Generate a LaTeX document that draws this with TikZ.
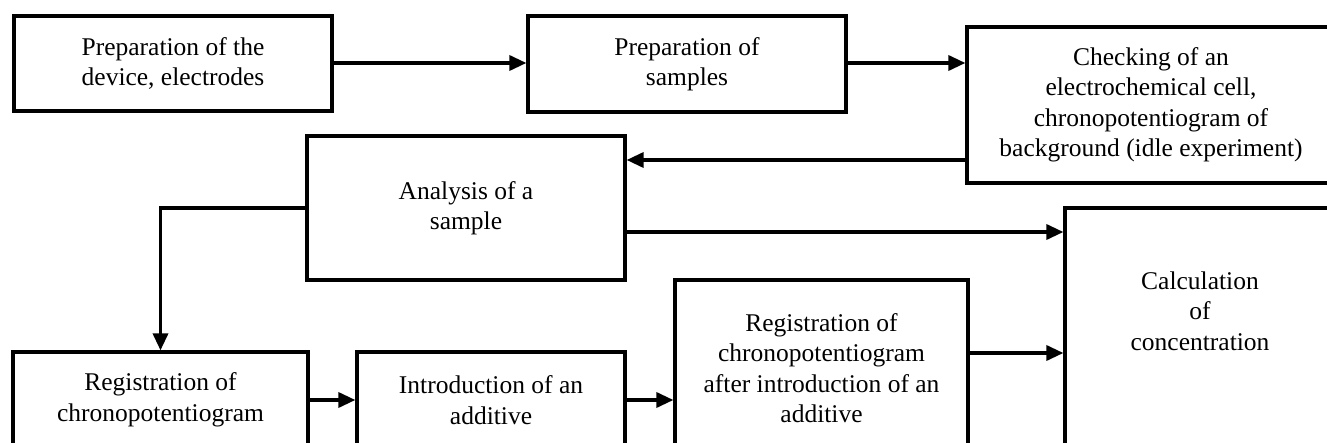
\documentclass[tikz,border=0pt]{standalone}
\usepackage{fontspec}
\setmainfont{Liberation Serif}
\usetikzlibrary{arrows.meta}
\begin{document}
\begin{tikzpicture}[x=1pt,y=-1pt,
  txt/.style={font=\fontsize{25.5}{30.5}\selectfont},
  box/.style={draw, line width=3.2pt, align=center, inner sep=0pt, txt},
  conn/.style={line width=3.4pt, -{Triangle[length=17pt,width=15pt]}}]
\useasboundingbox (0,0) rectangle (1327,443);
\clip (0,0) rectangle (1327,443);
\node[box, minimum width=318pt, minimum height=95pt] (b1) at (173,63.5) {Preparation of the\\device, electrodes};
\node[box, minimum width=318pt, minimum height=96pt] (b2) at (687,64) {Preparation of\\samples};
\node[box, minimum width=368pt, minimum height=156pt] (b3) at (1151,105) {Checking of an\\electrochemical cell,\\chronopotentiogram of\\background (idle experiment)};
\node[box, minimum width=318pt, minimum height=144pt] (ana) at (466,208) {Analysis of a\\sample};
\node[box, minimum width=295pt, minimum height=96pt] (reg) at (160.5,400) {Registration of\\chronopotentiogram};
\node[box, minimum width=268pt, minimum height=96pt] (intro) at (491,400) {Introduction of an\\additive};
\node[box, minimum width=293pt, minimum height=176pt] (reg2) at (821.5,368) {Registration of\\chronopotentiogram\\after introduction of an\\additive};
\node[draw, line width=3.2pt, minimum width=270pt, minimum height=262pt, inner sep=0pt] (calc) at (1200,339) {};
\node[align=center, inner sep=0pt, txt] (calctext) at (1200,311) {Calculation\\of\\concentration};
\draw[conn] (b1.east |- 0,63) -- (b2.west |- 0,63);
\draw[conn] (b2.east |- 0,63) -- (b3.west |- 0,63);
\draw[conn] (b3.west |- 0,160) -- (ana.east |- 0,160);
\draw[conn] (ana.west) -| (reg.north);
\draw[conn] (ana.east |- 0,232) -- (calc.west |- 0,232);
\draw[conn] (reg.east) -- (intro.west);
\draw[conn] (intro.east) -- (intro.east -| reg2.west);
\draw[conn] (reg2.east |- 0,353) -- (calc.west |- 0,353);
\end{tikzpicture}
\end{document}
